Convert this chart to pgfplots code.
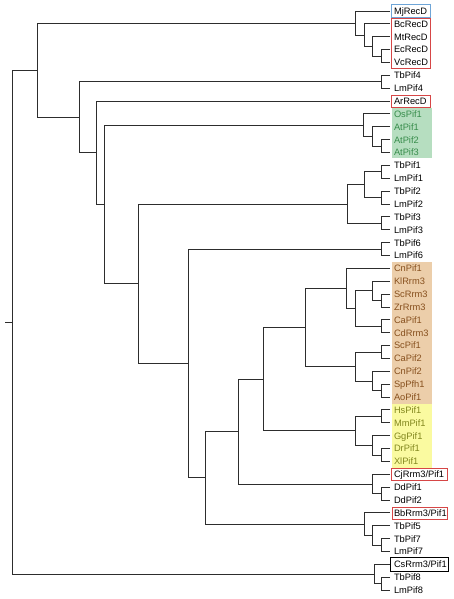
\documentclass[border=0pt]{standalone}
\usepackage{pgfplots}
\pgfplotsset{compat=1.18}
\usepackage{fontspec}
\setmainfont{Liberation Sans}
\definecolor{edgec}{RGB}{45,45,45}
\definecolor{boxred}{RGB}{214,70,70}
\definecolor{boxblue}{RGB}{110,165,215}
\definecolor{fillgreen}{RGB}{182,222,192}
\definecolor{txtgreen}{RGB}{55,140,75}
\definecolor{filltan}{RGB}{236,206,170}
\definecolor{txttan}{RGB}{135,80,30}
\definecolor{fillyel}{RGB}{250,250,160}
\definecolor{txtyel}{RGB}{130,135,30}
\tikzset{
  edge/.style={edgec, line width=0.95pt, mark=none, line join=miter},
  leaf/.style={anchor=west, inner sep=0pt, xshift=3.8pt, font=\fontsize{9.3}{11}\selectfont, text height=6.7pt, text depth=0pt},
}
% bracket: node x, child1 y, child1 x, child2 y, child2 x
\newcommand{\br}[5]{\addplot[edge] coordinates {(#3,#2) (#1,#2) (#1,#4) (#5,#4)};}
\newcommand{\lab}[3]{\node[leaf,text=#3] at (axis cs:390,#1) {#2};}
\begin{document}
\begin{tikzpicture}
\begin{axis}[
  scale only axis, width=453pt, height=599pt,
  xmin=0, xmax=453, ymin=0, ymax=599, y dir=reverse,
  hide axis, clip=false,
]
\path (rel axis cs:0,0) rectangle (rel axis cs:1,1);
% coloured group backgrounds and boxes
\fill[fillgreen] (axis cs:391.7,107.6) rectangle (axis cs:432,158.4);
\fill[filltan] (axis cs:391.7,262) rectangle (axis cs:432,403.5);
\fill[fillyel] (axis cs:391.7,403.5) rectangle (axis cs:432,467.5);
\draw[boxblue, line width=0.8pt] (axis cs:391.7,4.9) rectangle (axis cs:430.7,17.0);
\draw[boxred, line width=0.8pt] (axis cs:391.7,18.2) rectangle (axis cs:430.7,68.2);
\draw[boxred, line width=0.8pt] (axis cs:391.7,95.0) rectangle (axis cs:430.7,107.0);
\draw[boxred, line width=0.8pt] (axis cs:391.5,468.5) rectangle (axis cs:447.7,480.3);
\draw[boxred, line width=0.8pt] (axis cs:392.5,507.8) rectangle (axis cs:447.5,519.3);
\draw[black, line width=0.8pt] (axis cs:390.7,557.8) rectangle (axis cs:447.9,571.0);
% tree edges
\addplot[edge] coordinates {(5,322.12) (12.3,322.12)};
\br{12.3}{70.18}{37.3}{574.06}{374}
\br{37.3}{23.07}{355.5}{117.3}{79.3}
\br{355.5}{11.00}{390}{35.13}{364}
\br{364}{23.87}{390}{46.40}{372.7}
\br{372.7}{36.74}{390}{56.05}{381}
\br{381}{49.61}{390}{62.48}{390}
\br{79.3}{81.79}{381.5}{152.8}{96}
\br{381.5}{75.35}{390}{88.22}{390}
\br{96}{101.09}{390}{204.5}{104.7}
\br{104.7}{125.22}{363.5}{283.77}{138.3}
\br{363.5}{113.96}{390}{136.48}{372.5}
\br{372.5}{126.83}{390}{146.13}{381}
\br{381}{139.70}{390}{152.57}{390}
\br{138.3}{204.05}{347.5}{363.5}{188.3}
\br{347.5}{184.75}{364}{223.36}{381}
\br{364}{171.88}{381}{197.62}{381}
\br{381}{165.44}{390}{178.31}{390}
\br{381}{191.18}{390}{204.05}{390}
\br{381}{216.92}{390}{229.79}{390}
\br{188.3}{249.1}{381}{477.89}{205}
\br{381}{242.66}{390}{255.53}{390}
\br{205}{431.58}{238.3}{524.19}{364}
\br{238.3}{379.2}{263.3}{483.97}{372.3}
\br{263.3}{327.52}{305}{430.88}{355}
\br{305}{288.51}{346.7}{366.54}{355}
\br{346.7}{268.40}{390}{308.62}{355}
\br{355}{290.92}{372.5}{326.32}{381}
\br{372.5}{281.27}{390}{300.58}{381}
\br{381}{294.14}{390}{307.01}{390}
\br{381}{319.88}{390}{332.75}{390}
\br{355}{352.06}{381}{381.01}{372.5}
\br{381}{345.62}{390}{358.49}{390}
\br{372.5}{371.36}{390}{390.67}{381}
\br{381}{384.23}{390}{397.10}{390}
\br{355}{416.4}{381}{445.36}{372.5}
\br{381}{409.97}{390}{422.84}{390}
\br{372.5}{435.71}{390}{455.02}{381}
\br{381}{448.58}{390}{461.45}{390}
\br{372.3}{474.32}{390}{493.62}{381.5}
\br{381.5}{487.19}{390}{500.06}{390}
\br{364}{512.93}{390}{535.45}{372.3}
\br{372.3}{525.80}{390}{545.1}{381}
\br{381}{538.67}{390}{551.54}{390}
\br{374}{564.41}{390}{583.7}{381.7}
\br{381.7}{577.28}{390}{590.15}{390}
% leaf labels
\lab{11.00}{MjRecD}{black}
\lab{23.87}{BcRecD}{black}
\lab{36.74}{MtRecD}{black}
\lab{49.61}{EcRecD}{black}
\lab{62.48}{VcRecD}{black}
\lab{75.35}{TbPif4}{black}
\lab{88.22}{LmPif4}{black}
\lab{101.09}{ArRecD}{black}
\lab{113.96}{OsPif1}{txtgreen}
\lab{126.83}{AtPif1}{txtgreen}
\lab{139.70}{AtPif2}{txtgreen}
\lab{152.57}{AtPif3}{txtgreen}
\lab{165.44}{TbPif1}{black}
\lab{178.31}{LmPif1}{black}
\lab{191.18}{TbPif2}{black}
\lab{204.05}{LmPif2}{black}
\lab{216.92}{TbPif3}{black}
\lab{229.79}{LmPif3}{black}
\lab{242.66}{TbPif6}{black}
\lab{255.53}{LmPif6}{black}
\lab{268.40}{CnPif1}{txttan}
\lab{281.27}{KlRrm3}{txttan}
\lab{294.14}{ScRrm3}{txttan}
\lab{307.01}{ZrRrm3}{txttan}
\lab{319.88}{CaPif1}{txttan}
\lab{332.75}{CdRrm3}{txttan}
\lab{345.62}{ScPif1}{txttan}
\lab{358.49}{CaPif2}{txttan}
\lab{371.36}{CnPif2}{txttan}
\lab{384.23}{SpPfh1}{txttan}
\lab{397.10}{AoPif1}{txttan}
\lab{409.97}{HsPif1}{txtyel}
\lab{422.84}{MmPif1}{txtyel}
\lab{435.71}{GgPif1}{txtyel}
\lab{448.58}{DrPif1}{txtyel}
\lab{461.45}{XlPif1}{txtyel}
\lab{474.32}{CjRrm3/Pif1}{black}
\lab{487.19}{DdPif1}{black}
\lab{500.06}{DdPif2}{black}
\lab{512.93}{BbRrm3/Pif1}{black}
\lab{525.80}{TbPif5}{black}
\lab{538.67}{TbPif7}{black}
\lab{551.54}{LmPif7}{black}
\lab{564.41}{CsRrm3/Pif1}{black}
\lab{577.28}{TbPif8}{black}
\lab{590.15}{LmPif8}{black}
\end{axis}
\end{tikzpicture}
\end{document}
